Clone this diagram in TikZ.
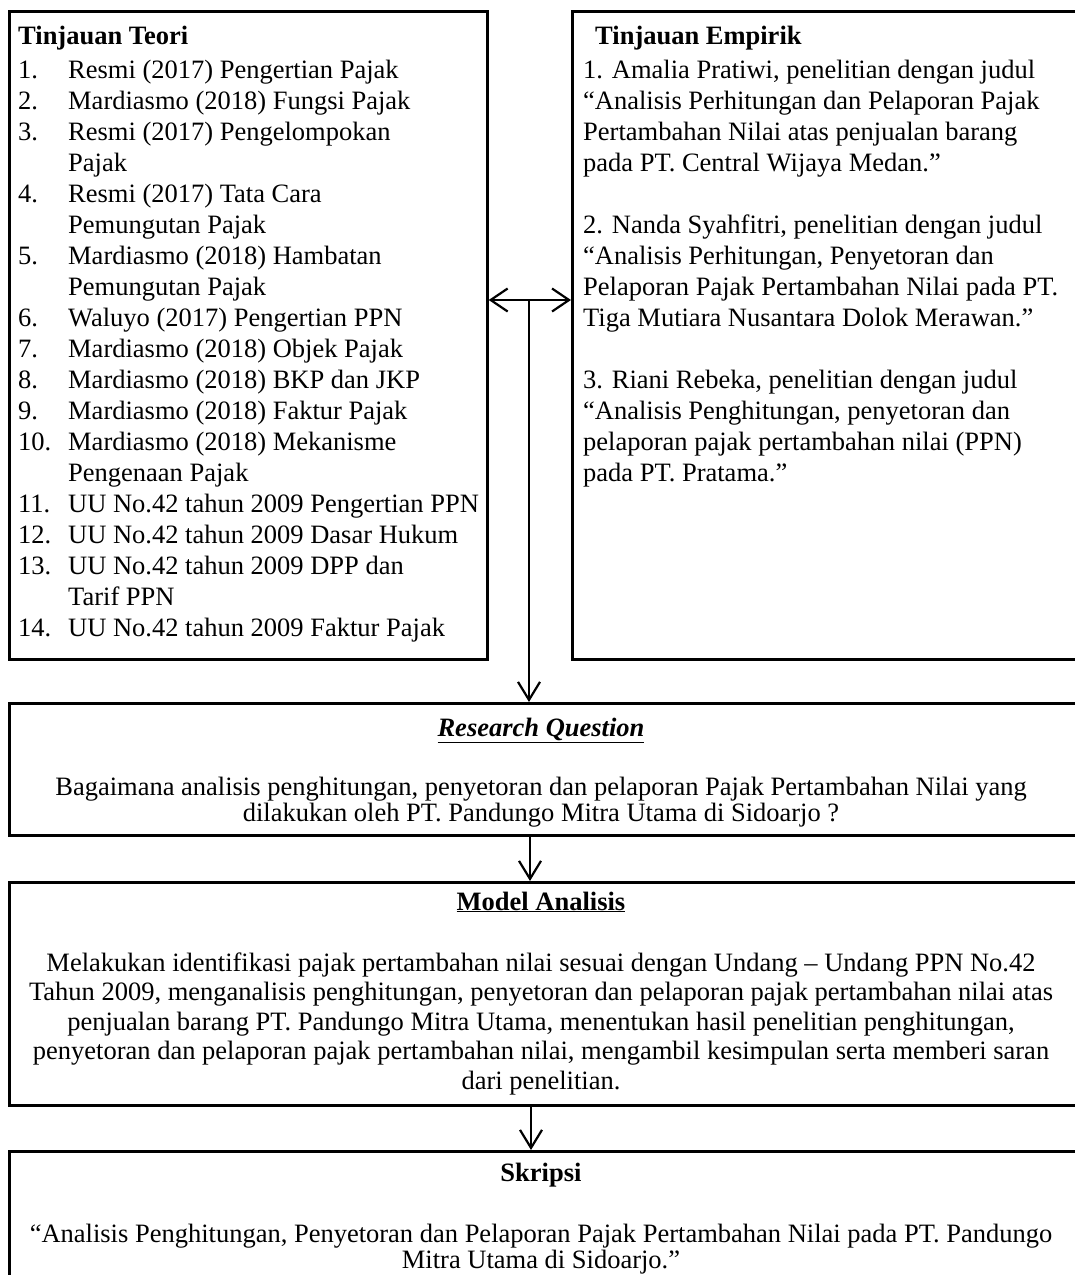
\documentclass[tikz,border=0pt]{standalone}
\usepackage{fontspec}
\setmainfont{Liberation Serif}
\usetikzlibrary{arrows.meta,calc}
\begin{document}
\begin{tikzpicture}[x=1pt,y=-1pt,
  box/.style={draw, line width=2.7pt, rectangle, inner sep=0pt, anchor=north west},
  txt/.style={inner sep=0pt, font=\fontsize{26.5}{31}\selectfont},
  tight/.style={inner sep=0pt, font=\fontsize{26.5}{25.5}\selectfont},
  mid/.style={inner sep=0pt, font=\fontsize{26.5}{29.5}\selectfont},
  conn/.style={line width=2.2pt, -{Straight Barb[length=18pt,width=22pt,line width=2.2pt]}},
  dconn/.style={line width=2.2pt, {Straight Barb[length=17pt,width=23pt,line width=2.2pt]}-{Straight Barb[length=17pt,width=23pt,line width=2.2pt]}},
]
\useasboundingbox (0,0) rectangle (1075,1275);
% boxes
\node[box, minimum width=478pt, minimum height=648pt] (teori) at (8,10) {};
\node[box, minimum width=505pt, minimum height=648pt] (empirik) at (571,10) {};
\node[box, minimum width=1080pt, minimum height=132pt] (rq) at (8,702) {};
\node[box, minimum width=1080pt, minimum height=223pt] (model) at (8,881) {};
\node[box, minimum width=1080pt, minimum height=200pt] (skripsi) at (8,1150) {};
% left box text
\node[txt, anchor=base west] (tt) at (18,44) {\textbf{Tinjauan Teori}};
\node[txt, anchor=base west] (tl) at (18,78) {\begin{tabular}[t]{@{}p{50pt}@{}l@{}}
1. & Resmi (2017) Pengertian Pajak\\
2. & Mardiasmo (2018) Fungsi Pajak\\
3. & Resmi (2017) Pengelompokan\\
   & Pajak\\
4. & Resmi (2017) Tata Cara\\
   & Pemungutan Pajak\\
5. & Mardiasmo (2018) Hambatan\\
   & Pemungutan Pajak\\
6. & Waluyo (2017) Pengertian PPN\\
7. & Mardiasmo (2018) Objek Pajak\\
8. & Mardiasmo (2018) BKP dan JKP\\
9. & Mardiasmo (2018) Faktur Pajak\\
10. & Mardiasmo (2018) Mekanisme\\
   & Pengenaan Pajak\\
11. & UU No.42 tahun 2009 Pengertian PPN\\
12. & UU No.42 tahun 2009 Dasar Hukum\\
13. & UU No.42 tahun 2009 DPP dan\\
   & Tarif PPN\\
14. & UU No.42 tahun 2009 Faktur Pajak
\end{tabular}};
% right box text
\node[txt, anchor=base west] (te) at (595,44) {\textbf{Tinjauan Empirik}};
\node[txt, anchor=base west] (tel) at (583,78) {\begin{tabular}[t]{@{}l@{}}
1. Amalia Pratiwi, penelitian dengan judul\\
“Analisis Perhitungan dan Pelaporan Pajak\\
Pertambahan Nilai atas penjualan barang\\
pada PT. Central Wijaya Medan.”\\
\mbox{}\\
2. Nanda Syahfitri, penelitian dengan judul\\
“Analisis Perhitungan, Penyetoran dan\\
Pelaporan Pajak Pertambahan Nilai pada PT.\\
Tiga Mutiara Nusantara Dolok Merawan.”\\
\mbox{}\\
3. Riani Rebeka, penelitian dengan judul\\
“Analisis Penghitungan, penyetoran dan\\
pelaporan pajak pertambahan nilai (PPN)\\
pada PT. Pratama.”
\end{tabular}};
% research question
\node[txt, anchor=base] (rqt) at (541,736) {\textbf{\textit{\underline{Research Question}}}};
\node[tight, anchor=base] (rqb) at (541,795) {\begin{tabular}[t]{@{}c@{}}
Bagaimana analisis penghitungan, penyetoran dan pelaporan Pajak Pertambahan Nilai yang\\
dilakukan oleh PT. Pandungo Mitra Utama di Sidoarjo ?
\end{tabular}};
% model analisis
\node[txt, anchor=base] (mt) at (541,910) {\textbf{\underline{Model Analisis}}};
\node[mid, anchor=base] (mb) at (541,971) {\begin{tabular}[t]{@{}c@{}}
Melakukan identifikasi pajak pertambahan nilai sesuai dengan Undang – Undang PPN No.42\\
Tahun 2009, menganalisis penghitungan, penyetoran dan pelaporan pajak pertambahan nilai atas\\
penjualan barang PT. Pandungo Mitra Utama, menentukan hasil penelitian penghitungan,\\
penyetoran dan pelaporan pajak pertambahan nilai, mengambil kesimpulan serta memberi saran\\
dari penelitian.
\end{tabular}};
% skripsi
\node[txt, anchor=base] (st) at (541,1181) {\textbf{Skripsi}};
\node[tight, anchor=base] (sb) at (541,1242) {\begin{tabular}[t]{@{}c@{}}
“Analisis Penghitungan, Penyetoran dan Pelaporan Pajak Pertambahan Nilai pada PT. Pandungo\\
Mitra Utama di Sidoarjo.”
\end{tabular}};
% connectors
\coordinate (j) at (529,300);
\coordinate (c2) at (530,0);
\coordinate (c3) at (531,0);
\draw[dconn] (teori.east |- j) -- (empirik.west |- j);
\draw[conn] (j) -- (rq.north -| j);
\draw[conn] (rq.south -| c2) -- (model.north -| c2);
\draw[conn] (model.south -| c3) -- (skripsi.north -| c3);
\end{tikzpicture}
\end{document}
